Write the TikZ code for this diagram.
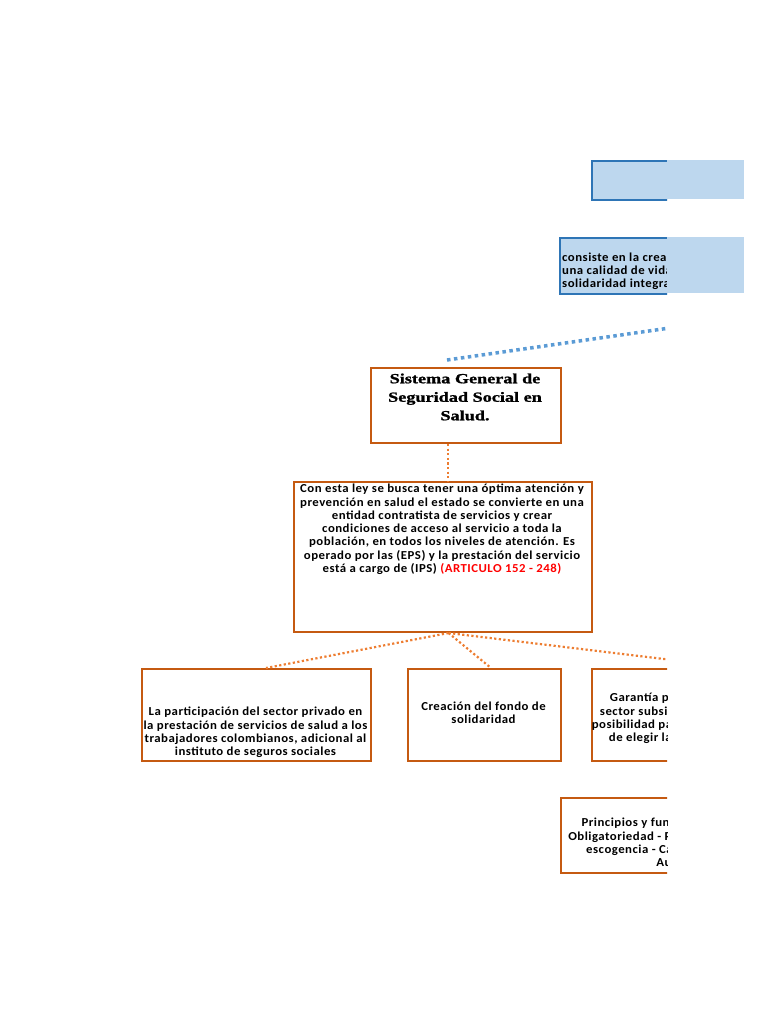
\documentclass[tikz,border=0pt]{standalone}
\usepackage{fontspec}
\setmainfont{Carlito}[FakeStretch=1.05,LetterSpace=4]
\newfontfamily\titlefont{Liberation Serif}[FakeStretch=1.3,FakeBold=1.2]
\definecolor{boxorange}{HTML}{C55A11}
\definecolor{conorange}{HTML}{ED7D31}
\definecolor{boxblue}{HTML}{2E75B6}
\definecolor{lightblue}{HTML}{BDD7EE}
\definecolor{conblue}{HTML}{5B9BD5}
\definecolor{artred}{HTML}{FF0000}
\begin{document}
\begin{tikzpicture}[x=1pt,y=-1pt,
  box/.style={draw=boxorange, line width=2pt, inner sep=0pt, anchor=north west},
  bluebox/.style={draw=boxblue, line width=2pt, fill=lightblue, inner sep=0pt, anchor=north west},
  txt/.style={font=\bfseries\fontsize{12.2}{13.3}\selectfont, align=center, inner sep=0pt},
  ttl/.style={font=\titlefont\bfseries\fontsize{14}{18.5}\selectfont, align=center, inner sep=0pt},
  odot/.style={draw=conorange, line width=2.2pt, dash pattern=on 2.2pt off 2.4pt},
  bdot/.style={draw=conblue, line width=3.5pt, dash pattern=on 3.5pt off 3.5pt}]
\useasboundingbox (0,0) rectangle (768,1024);
\begin{scope}
\clip (0,0) rectangle (667,1024);
% blue boxes
\node[bluebox, minimum width=200pt, minimum height=39pt] (b1) at (591,160) {};
\node[bluebox, minimum width=200pt, minimum height=56pt] (b2) at (559,237) {};
\node[txt, align=left, anchor=north west] (b2t) at (562,252.5) {consiste en la creación de un sistema que garantiza\\una calidad de vida acorde con la dignidad humana\\solidaridad integral y universal};
% orange boxes
\node[box, minimum width=190pt, minimum height=75pt] (title) at (370,367) {};
\node[ttl] (titlet) at (465,397) {Sistema General de\\Seguridad Social en\\Salud.};
\node[box, minimum width=298pt, minimum height=150pt] (main) at (293,481) {};
\node[txt, anchor=north] (maint) at (442,484) {Con esta ley se busca tener una óptima atención y\\prevención en salud el estado se convierte en una\\entidad contratista de servicios y crear\\condiciones de acceso al servicio a toda la\\población, en todos los niveles de atención. Es\\operado por las (EPS) y la prestación del servicio\\está a cargo de (IPS) \textcolor{artred}{(ARTICULO 152 - 248)}};
\node[box, minimum width=229pt, minimum height=92pt] (left) at (141,668) {};
\node[txt] (leftt) at (255.5,732.5) {La participación del sector privado en\\la prestación de servicios de salud a los\\trabajadores colombianos, adicional al\\instituto de seguros sociales};
\node[box, minimum width=153pt, minimum height=92pt] (mid) at (407,668) {};
\node[txt] (midt) at (483.5,712.5) {Creación del fondo de\\solidaridad};
\node[box, minimum width=153pt, minimum height=92pt] (right) at (591,668) {};
\node[txt] (rightt) at (667.5,718.5) {Garantía para que el\\sector subsidiado tenga\\posibilidad para el usuario\\de elegir la EPS o IPS};
\node[box, minimum width=260pt, minimum height=75pt] (bottom) at (560,797) {};
\node[txt] (bottomt) at (690,842.5) {Principios y fundamentos del sistema:\\Obligatoriedad - Protección integral - Libre\\escogencia - Calidad - Participación -\\Autonomía.};
% connectors
\coordinate (bs) at (447,360);
\coordinate (be) at (760,315);
\draw[bdot] (bs) -- (be);
\draw[odot] ([xshift=-18pt]title.south) -- ([xshift=-18pt]title.south |- main.north);
\draw[odot] ([xshift=5.5pt]main.south) -- ([xshift=9.5pt]left.north);
\draw[odot] ([xshift=5.5pt]main.south) -- ([xshift=6.5pt]mid.north);
\draw[odot] ([xshift=5.5pt]main.south) -- ([xshift=70pt]right.north);
\end{scope}
\fill[lightblue] (667,160) rectangle (744,199);
\fill[lightblue] (667,237) rectangle (744,293);
\end{tikzpicture}
\end{document}
